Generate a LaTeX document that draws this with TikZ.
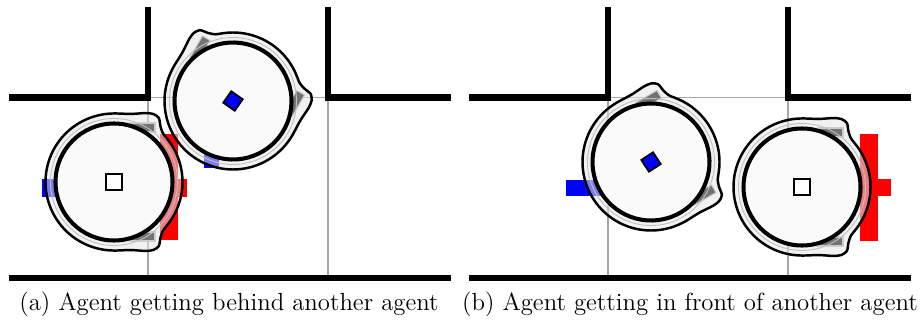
\documentclass[tikz,border=0pt]{standalone}
\usepackage{fontspec}
\usetikzlibrary{positioning}

\definecolor{shell}{gray}{0.98}
\definecolor{halo}{gray}{0.9}

\begin{document}
\begin{tikzpicture}[x=0.02cm,y=-0.02cm,
		declare function={
			fold(\a)=min(\a,360-\a);
			hull(\a)=68.5+10.5*exp(max(-20,0-((fold(\a)-57)/((fold(\a)>57)?14:7))^2));
		},
		wall/.style={line width=3.6pt,line join=miter},
		cell/.style={draw=black!35,line width=0.8pt},
		goalred/.style={fill=red},
		goalblue/.style={fill=blue},
		marker/.style={draw=black,line width=1pt,minimum size=0.31cm,inner sep=0pt},
		caption/.style={font=\fontsize{14.1}{17}\selectfont},
		robot/.pic={
			% footprint: body circle grown around the two wheels
			\draw[fill=halo,fill opacity=0.55,line width=1.4pt]
				plot[domain=0:355,samples=72,smooth cycle] (\x:{hull(\x)});
			\draw[fill=black!55,draw=black!20,line width=0.6pt] (16,50) rectangle (41,59);
			\draw[fill=black!55,draw=black!20,line width=0.6pt] (16,-50) rectangle (41,-59);
			\draw[draw=black!25,line width=0.5pt] (0,0) circle [radius=63.5];
			\draw[fill=shell,line width=2.3pt] (0,0) circle [radius=58.5];
		},
	]
	\useasboundingbox (0,0) rectangle (922,320);
	% Grid cells and walls of both corridors
	\foreach \dx in {0,460} {
		\draw[cell] (148+\dx,97.5) -- (328+\dx,97.5);
		\draw[cell] (148+\dx,97.5) -- (148+\dx,278);
		\draw[cell] (328+\dx,97.5) -- (328+\dx,278);
		\draw[wall] (9+\dx,97.5) -- (148+\dx,97.5) -- (148+\dx,7);
		\draw[wall] (328+\dx,7) -- (328+\dx,97.5) -- (451+\dx,97.5);
		\draw[wall] (9+\dx,278) -- (451+\dx,278);
	}
	% Goal bars
	\fill[goalblue] (42,179) rectangle (75,197);
	\fill[goalblue] (204,146) rectangle (219,168);
	\fill[goalred] (160,134) rectangle (178,240);
	\fill[goalred] (178,179) rectangle (187,197);
	\fill[goalblue] (566,180) rectangle (615,196);
	\fill[goalred] (860,134) rectangle (878,241);
	\fill[goalred] (878,179) rectangle (891,196);
	% Agents, left panel
	\pic at (114,182) {robot};
	\pic[rotate=60] at (233,101) {robot};
	\node[marker,fill=white] (selfA) at (114,182) {};
	\node[marker,fill=blue,minimum size=0.28cm,rotate=55] (otherA) at (233,101) {};
	% Agents, right panel
	\pic[rotate=30] at (651,162) {robot};
	\pic at (802,187) {robot};
	\node[marker,fill=blue,minimum size=0.28cm,rotate=33] (otherB) at (651,162) {};
	\node[marker,fill=white] (selfB) at (802,187) {};
	% Captions
	\node[caption] (capA) at (229,304) {(a) Agent getting behind another agent};
	\node[caption] (capB) at (690,304) {(b) Agent getting in front of another agent};
\end{tikzpicture}
\end{document}
